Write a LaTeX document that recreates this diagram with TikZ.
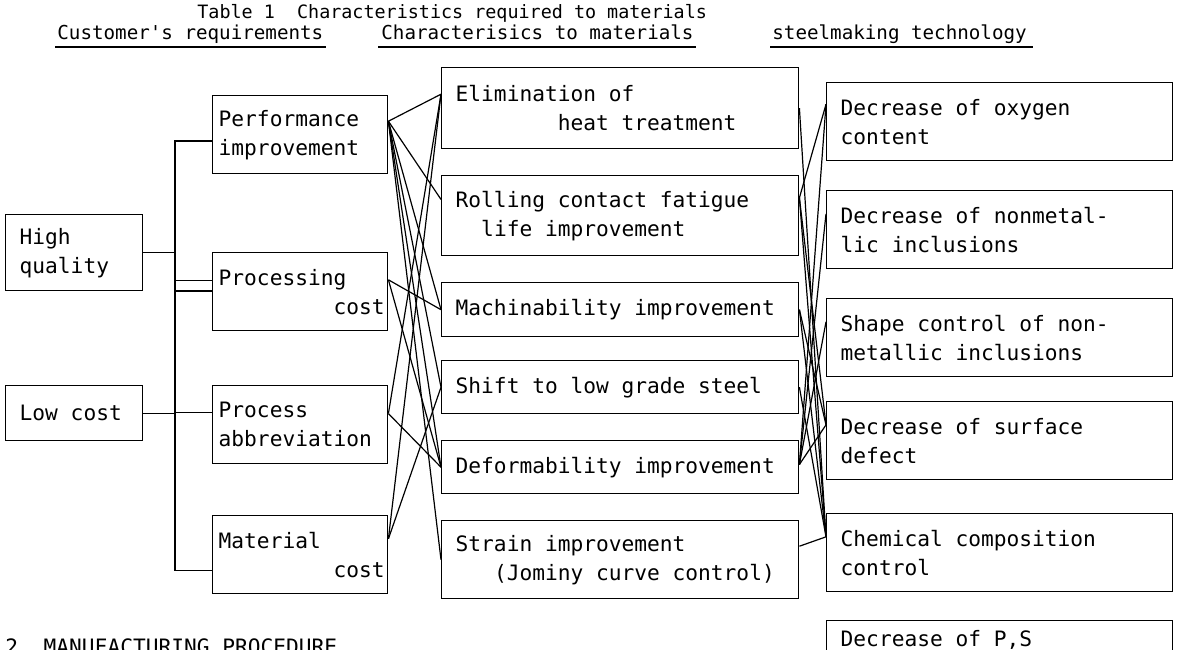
\documentclass[tikz,border=0pt]{standalone}
\usepackage{fontspec}
\setmonofont{DejaVu Sans Mono}
\usetikzlibrary{calc}
\newcommand\ind[1]{\hspace*{#1\fontcharwd\font`\0}}
\newcommand\monospc{\fontdimen2\font=\fontcharwd\font`\0\relax
  \fontdimen3\font=0pt\relax\fontdimen4\font=0pt\relax}
\tikzset{
  every node/.style={font=\ttfamily\fontsize{10.6}{14.5}\selectfont\monospc},
  box/.style={draw, line width=0.7pt, anchor=north west, align=left, inner ysep=0pt,
    execute at begin node={\spaceskip=\fontcharwd\font`\0\relax}},
  fbox/.style={box, minimum width=68.5pt, text width=54.5pt, inner xsep=7pt},
  lbox/.style={box, minimum width=87.5pt, text width=81.5pt, inner xsep=3pt, minimum height=39pt},
  mbox/.style={box, minimum width=178.5pt, text width=164.5pt, inner xsep=7pt},
  rbox/.style={box, minimum width=173pt, text width=159pt, inner xsep=7pt, minimum height=39pt},
  head/.style={anchor=base west, inner sep=0pt, font=\ttfamily\fontsize{9.6}{12}\selectfont\monospc},
  link/.style={line width=0.6pt},
}
\begin{document}
\begin{tikzpicture}[x=0.5pt, y=-0.5pt]
\useasboundingbox (0,0) rectangle (1186,649);
\clip (0,0) rectangle (1186,649);
% headings
\node[head, font=\ttfamily\fontsize{9.2}{12}\selectfont\monospc] (title) at (197,18)
  {Table 1\ind{2}Characteristics required to materials};
\node[head] (hcust) at (57,39) {Customer's requirements};
\node[head] (hchar) at (381,39) {Characterisics to materials};
\node[head] (hsteel) at (772,39) {steelmaking technology};
\draw[link] ($(hcust.base west)+(-2,8)$) -- ($(hcust.base east)+(2,8)$);
\draw[link] ($(hchar.base west)+(-3,8)$) -- ($(hchar.base east)+(2,8)$);
\draw[link] ($(hsteel.base west)+(-2,8)$) -- ($(hsteel.base east)+(6,8)$);
% customer's requirements
\node[fbox, minimum height=38pt] (hq) at (5,214) {High\\quality};
\node[fbox, minimum height=27.5pt] (lc) at (5,385) {Low cost};
\node[lbox] (perf) at (212,95) {Performance\\improvement};
\node[lbox] (proc) at (212,252) {Processing\\\ind{9}cost};
\node[lbox] (abbr) at (212,385) {Process\\abbreviation};
\node[lbox] (matc) at (212,515) {Material\\\ind{9}cost};
% characteristics to materials
\node[mbox, minimum height=40.5pt] (elim) at (441,67) {Elimination of\\\ind{8}heat treatment};
\node[mbox, minimum height=40pt] (roll) at (441,175) {Rolling contact fatigue\\\ind{2}life improvement};
\node[mbox, minimum height=27pt] (mach) at (441,282) {Machinability improvement};
\node[mbox, minimum height=26.5pt] (shift) at (441,360) {Shift to low grade steel};
\node[mbox, minimum height=26.5pt] (deform) at (441,440) {Deformability improvement};
\node[mbox, minimum height=39pt] (strain) at (441,520) {Strain improvement\\\ind{3}(Jominy curve control)};
% steelmaking technology
\node[rbox] (oxy) at (826,82) {Decrease of oxygen\\content};
\node[rbox] (incl) at (826,190) {Decrease of nonmetal-\\lic inclusions};
\node[rbox] (shape) at (826,298) {Shape control of non-\\metallic inclusions};
\node[rbox] (surf) at (826,401) {Decrease of surface\\defect};
\node[rbox] (chem) at (826,513) {Chemical composition\\control};
\node[rbox, minimum height=0pt, inner ysep=5pt, text height=8pt, text depth=26pt] (ps) at (826,620)
  {Decrease of P,S};
\node[anchor=base west, inner sep=0pt] (sec) at (5,654) {2. MANUFACTURING PROCEDURE};
% tree
\coordinate (bx) at (175,0);
\coordinate (pjp) at ($(perf.north west)!.58!(perf.south west)$);
\coordinate (pjhq) at ($(proc.north west)!.49!(proc.south west)$);
\coordinate (pjlc) at ($(proc.north west)!.36!(proc.south west)$);
\coordinate (pja) at ($(abbr.north west)!.35!(abbr.south west)$);
\coordinate (pjm) at ($(matc.north west)!.7!(matc.south west)$);
\draw[link] (hq.east) -- (hq.east -| bx);
\draw[link] (pjp) -- (pjp -| bx) -- (pjhq -| bx) -- (pjhq);
\draw[link] (lc.east) -- (lc.east -| bx);
\draw[link] (pjlc) -- (pjlc -| bx) -- (pjm -| bx) -- (pjm);
\draw[link] (pja -| bx) -- (pja);
% ports
\foreach \n/\f in {perf/.33, proc/.35, abbr/.36, matc/.3,
                   elim/.5, roll/.28, mach/.5, shift/.5, deform/.45, strain/.33}
  \coordinate (\n-r) at ($(\n.north east)!\f!(\n.south east)$);
\foreach \n/\f in {elim/.33, roll/.3, mach/.5, shift/.5, deform/.5, strain/.5,
                   oxy/.28, incl/.3, shape/.3, surf/.3, chem/.3}
  \coordinate (\n-l) at ($(\n.north west)!\f!(\n.south west)$);
% links
\foreach \a/\b in {perf/elim, perf/roll, perf/mach, perf/shift, perf/deform, perf/strain,
                   proc/mach, proc/deform, abbr/elim, abbr/deform, matc/elim, matc/shift,
                   elim/chem, roll/oxy, roll/surf, roll/chem, mach/surf, mach/chem, shift/chem,
                   deform/oxy, deform/incl, deform/shape, deform/surf, strain/chem}
  \draw[link] (\a-r) -- (\b-l);
\end{tikzpicture}
\end{document}
